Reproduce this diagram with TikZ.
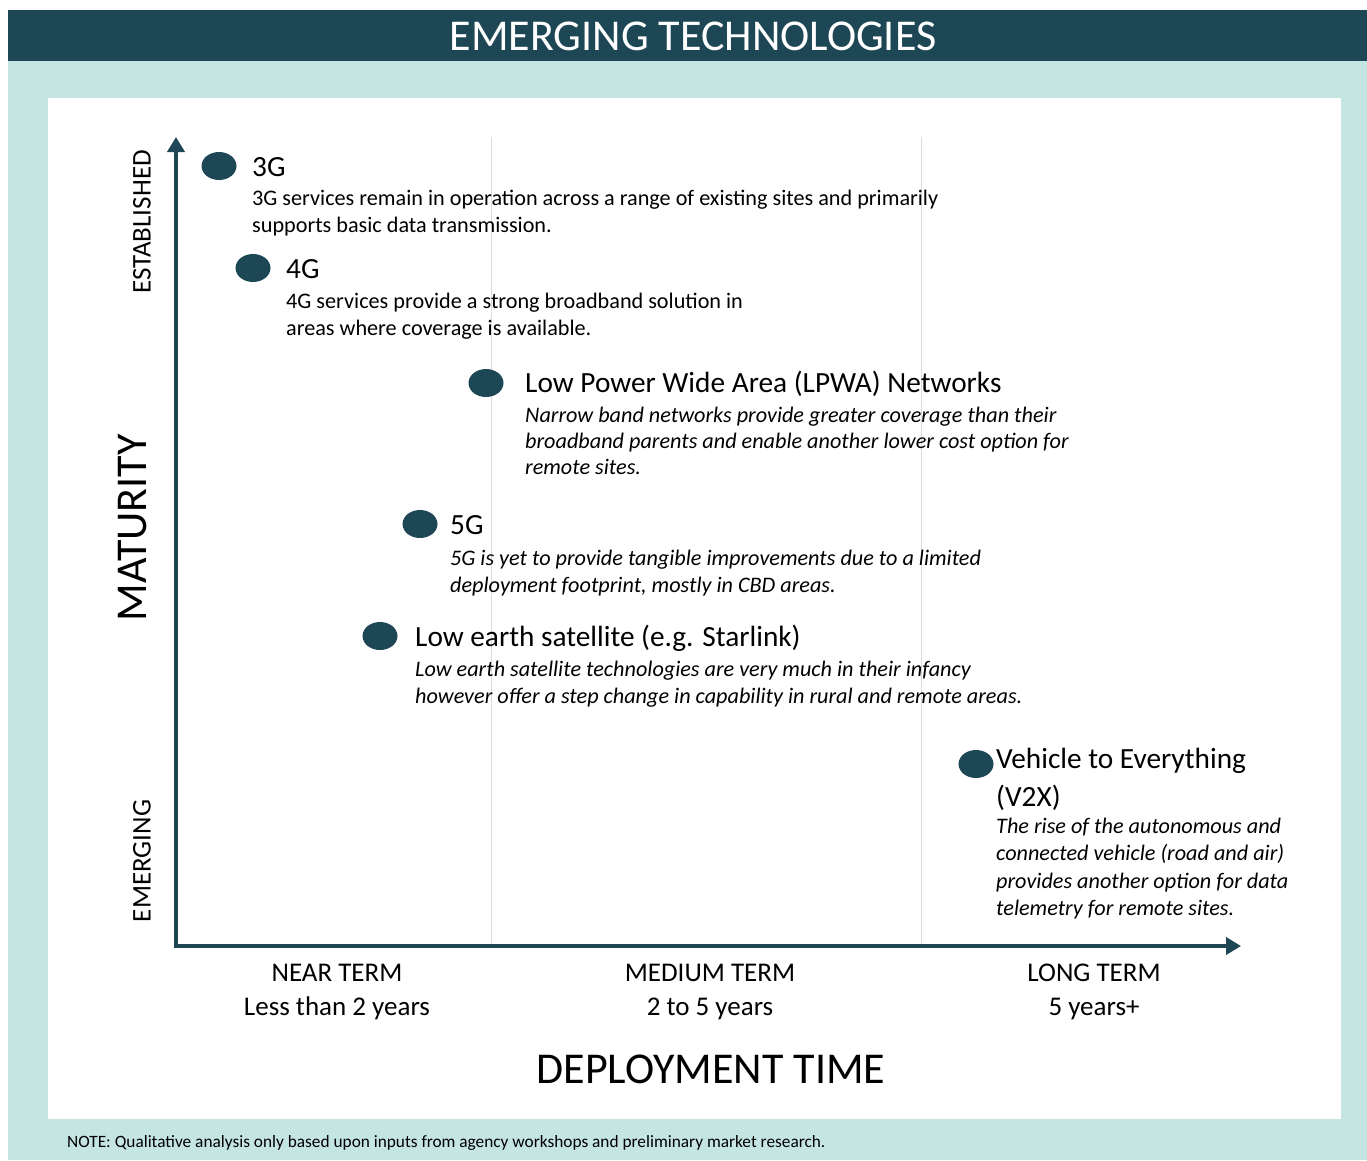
\documentclass[tikz,border=0pt]{standalone}
\usepackage{fontspec}
\setmainfont{Carlito}
\usetikzlibrary{arrows.meta,shapes.geometric}
\definecolor{darkteal}{HTML}{1E4756}
\definecolor{lightteal}{HTML}{C5E5E3}
\definecolor{gridgray}{HTML}{DCDCDC}
\newcommand{\fs}[2]{\fontsize{#1}{#2}\selectfont}
\tikzset{
  dot/.style={ellipse, fill=darkteal, minimum width=35pt, minimum height=28pt, inner sep=0pt},
  ititle/.style={anchor=base west, inner sep=0pt, font=\fs{29.3}{38}, align=left},
  idesc/.style={anchor=base west, inner sep=0pt, font=\fs{22.2}{27.5}, align=left},
  idesci/.style={idesc, font=\fs{22.2}{27.5}\itshape},
  axislbl/.style={rotate=90, inner sep=0pt, font=\fs{27}{30}},
  termlbl/.style={inner sep=0pt, font=\fs{27}{34}, align=center, anchor=base},
  axis/.style={draw=darkteal, line width=4pt, line join=miter, {Triangle[width=17pt,length=15pt]}-{Triangle[width=17pt,length=15pt]}},
  grid/.style={draw=gridgray, line width=1pt}
}
\begin{document}
\begin{tikzpicture}[x=1pt,y=-1pt]
\useasboundingbox (0,0) rectangle (1367,1160);
\fill[white] (0,0) rectangle (1367,1160);
\fill[lightteal] (8,61) rectangle (1367,1160);
\fill[darkteal] (8,10) rectangle (1367,61);
\fill[white] (48,98) rectangle (1341,1119);
\node[inner sep=0pt, text=white, font=\fs{44}{48}] (title) at (693,36) {EMERGING TECHNOLOGIES};

% grid lines
\coordinate (g1t) at (491,137); \coordinate (g1b) at (491,944);
\coordinate (g2t) at (921,137); \coordinate (g2b) at (921,944);
\draw[grid] (g1t) -- (g1b);
\draw[grid] (g2t) -- (g2b);

% axes
\coordinate (ytip) at (176,137);
\coordinate (origin) at (176,946);
\coordinate (xtip) at (1241,946);
\draw[axis] (ytip) -- (origin) -- (xtip);

% axis labels
\node[axislbl] (est) at (142,222) {ESTABLISHED};
\node[axislbl] (emg) at (142,861) {EMERGING};
\node[axislbl, font=\fs{44}{48}] (mat) at (133,528) {MATURITY};
\node[termlbl] (near) at (337,1015) {NEAR TERM\\Less than 2 years};
\node[termlbl] (med) at (710,1015) {MEDIUM TERM\\2 to 5 years};
\node[termlbl] (long) at (1094,1015) {LONG TERM\\5 years+};
\node[inner sep=0pt, font=\fs{44}{48}] (dep) at (711,1069) {DEPLOYMENT TIME};

% items
\node[dot] (d3g) at (219,166) {};
\node[ititle] (t3g) at (252,176) {3G};
\node[idesc] (x3g) at (252,232.5) {3G services remain in operation across a range of existing sites and primarily\\supports basic data transmission.};

\node[dot] (d4g) at (253,268) {};
\node[ititle] (t4g) at (286,278) {4G};
\node[idesc] (x4g) at (286,335.5) {4G services provide a strong broadband solution in\\areas where coverage is available.};

\node[dot] (dlp) at (486,383) {};
\node[ititle] (tlp) at (525,392) {Low Power Wide Area (LPWA) Networks};
\node[idesci, font=\fs{22.2}{26}\itshape] (xlp) at (525,474.5) {Narrow band networks provide greater coverage than their\\broadband parents and enable another lower cost option for\\remote sites.};

\node[dot] (d5g) at (420,524) {};
\node[ititle] (t5g) at (450,534) {5G};
\node[idesci] (x5g) at (450,592.5) {5G is yet to provide tangible improvements due to a limited\\deployment footprint, mostly in CBD areas.};

\node[dot] (dsat) at (380,636) {};
\node[ititle] (tsat) at (415,646.5) {Low earth satellite (e.g. Starlink)};
\node[idesci] (xsat) at (415,703.5) {Low earth satellite technologies are very much in their infancy\\however offer a step change in capability in rural and remote areas.};

\node[dot] (dv2x) at (976,764) {};
\node[ititle] (tv2x) at (996,806.5) {Vehicle to Everything\\(V2X)};
\node[idesci] (xv2x) at (996,915.5) {The rise of the autonomous and\\connected vehicle (road and air)\\provides another option for data\\telemetry for remote sites.};

\node[anchor=base west, inner sep=0pt, font=\fs{17.3}{20}] (note) at (67,1147.5) {NOTE: Qualitative analysis only based upon inputs from agency workshops and preliminary market research.};
\end{tikzpicture}
\end{document}
